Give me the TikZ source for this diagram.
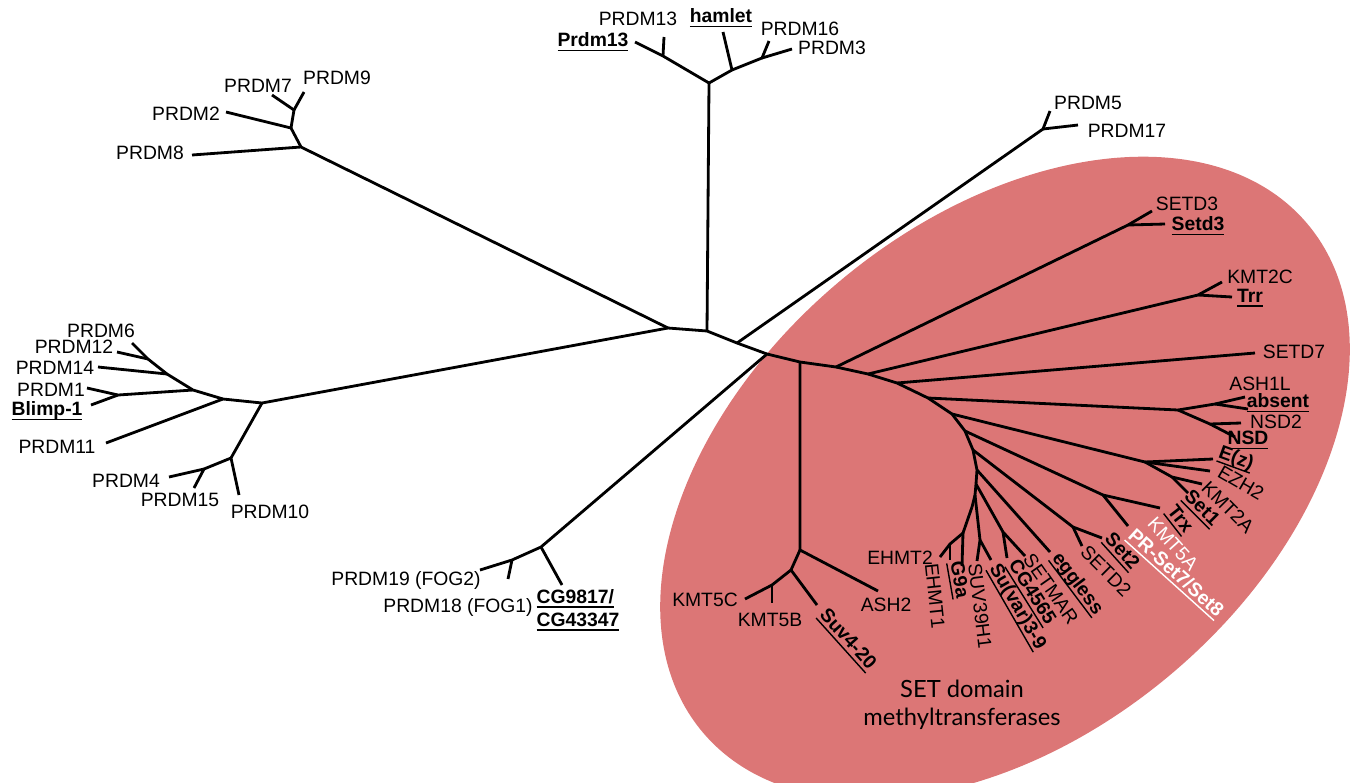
\documentclass[tikz,border=0pt]{standalone}
\usepackage{fontspec}
\setmainfont{Liberation Sans}
\newfontfamily\cladefont{Lato}
\usetikzlibrary{positioning}
\definecolor{setred}{RGB}{220,118,118}
\newcommand{\fly}[1]{\setbox0\hbox{#1}\rlap{\vrule height -1.7pt depth 2.5pt width \wd0}\box0}
\tikzset{
    branch/.style = {
        line width=1.6pt,
        line join=round
    },
    leaf/.style = {
        inner sep=0pt,
        font=\fontsize{11}{13}\selectfont
    },
    flyleaf/.style = {
        leaf,
        font=\fontsize{11}{13}\selectfont\bfseries
    },
    cladelabel/.style = {
        align=center,
        font=\cladefont\fontsize{13.5}{16}\selectfont
    }
}

\begin{document}
\begin{tikzpicture}[x=0.02cm, y=-0.02cm]
    \useasboundingbox (0,0) rectangle (1359,782);
    \fill[setred, rotate around={40:(1005,478)}] (1005,478) ellipse [x radius=395, y radius=257];
    \node[cladelabel] (setlabel) at (962,705) {SET domain\\methyltransferases};

    % backbone
    \coordinate (c1) at (668,328);
    \coordinate (c2) at (707,331);
    \coordinate (c3) at (737,343);
    \coordinate (c4) at (767,354);
    \coordinate (c5) at (800,362);
    \coordinate (s1) at (836,367);
    \coordinate (s2) at (868,374);
    \coordinate (s3) at (897,383);
    \coordinate (s4) at (928,398);
    \coordinate (s5) at (952,414);
    \coordinate (s6) at (965,431);
    \coordinate (s7) at (973,450);
    \coordinate (s8) at (977,470);
    \coordinate (s9) at (976,484);
    \coordinate (s10) at (975,495);
    \coordinate (s11) at (972,507);
    \draw[branch] (c1) -- (c2) -- (c3) -- (c4) -- (c5) -- (s1) -- (s2) -- (s3) -- (s4)
        -- (s5) -- (s6) -- (s7) -- (s8) -- (s9) -- (s10) -- (s11);

    % PRDM8 clade
    \coordinate (p8j) at (301,147);
    \coordinate (p2j) at (291,128);
    \coordinate (p79j) at (294,110);
    \coordinate (p8t) at (192,155);
    \coordinate (p2t) at (226,112);
    \coordinate (p7t) at (272,95);
    \coordinate (p9t) at (304,92);
    \draw[branch] (c1) -- (p8j) -- (p8t);
    \draw[branch] (p8j) -- (p2j) -- (p2t);
    \draw[branch] (p2j) -- (p79j) -- (p7t);
    \draw[branch] (p79j) -- (p9t);
    \node[leaf] (prdm8) at (150,153) {PRDM8};
    \node[leaf] (prdm2) at (186,114) {PRDM2};
    \node[leaf] (prdm7) at (258,86) {PRDM7};
    \node[leaf] (prdm9) at (337,78) {PRDM9};

    % PRDM13 / hamlet clade
    \coordinate (tj) at (709,83);
    \coordinate (p13j) at (663,56);
    \coordinate (p13t) at (664,37);
    \coordinate (fp13t) at (635,42);
    \coordinate (hj) at (732,70);
    \coordinate (ht) at (723,32);
    \coordinate (p316j) at (762,58);
    \coordinate (p16t) at (769,41);
    \coordinate (p3t) at (792,49);
    \draw[branch] (c2) -- (tj) -- (p13j) -- (fp13t);
    \draw[branch] (p13j) -- (p13t);
    \draw[branch] (tj) -- (hj) -- (ht);
    \draw[branch] (hj) -- (p316j) -- (p16t);
    \draw[branch] (p316j) -- (p3t);
    \node[leaf] (prdm13) at (638,19) {PRDM13};
    \node[flyleaf] (hamlet) at (721,18) {\fly{hamlet}};
    \node[flyleaf] (fprdm13) at (593,42) {\fly{Prdm13}};
    \node[leaf] (prdm16) at (800,29) {PRDM16};
    \node[leaf] (prdm3) at (832,48) {PRDM3};

    % PRDM5 clade
    \coordinate (p5j) at (1043,129);
    \coordinate (p5t) at (1050,111);
    \coordinate (p17t) at (1078,125);
    \draw[branch] (c3) -- (p5j) -- (p5t);
    \draw[branch] (p5j) -- (p17t);
    \node[leaf] (prdm5) at (1088,103) {PRDM5};
    \node[leaf] (prdm17) at (1127,131) {PRDM17};

    % FOG clade
    \coordinate (cgj) at (541,547);
    \coordinate (fogj) at (512,560);
    \coordinate (p19t) at (480,570);
    \coordinate (p18t) at (508,579);
    \coordinate (cgt) at (562,585);
    \draw[branch] (c4) -- (cgj) -- (fogj) -- (p19t);
    \draw[branch] (fogj) -- (p18t);
    \draw[branch] (cgj) -- (cgt);
    \node[leaf] (prdm19) at (406,580) {PRDM19 (FOG2)};
    \node[leaf] (prdm18) at (458,607) {PRDM18 (FOG1)};
    \node[flyleaf, align=left] (cg9817) at (578,610) {\fly{CG9817/}\\\fly{CG43347}};

    % PRDM1 clade
    \coordinate (lj) at (262,403);
    \coordinate (lj2) at (223,399);
    \coordinate (lj3) at (193,390);
    \coordinate (lj4) at (167,374);
    \coordinate (lj5) at (148,359);
    \coordinate (p6t) at (132,343);
    \coordinate (p12t) at (117,352);
    \coordinate (p14t) at (98,367);
    \coordinate (p1j) at (118,395);
    \coordinate (p1t) at (87,388);
    \coordinate (blt) at (91,405);
    \coordinate (p11t) at (106,443);
    \coordinate (lj6) at (231,458);
    \coordinate (p10t) at (239,495);
    \coordinate (lj7) at (204,469);
    \coordinate (p4t) at (169,477);
    \coordinate (p15t) at (194,488);
    \draw[branch] (c1) -- (lj) -- (lj2) -- (lj3) -- (lj4) -- (lj5) -- (p6t);
    \draw[branch] (lj5) -- (p12t);
    \draw[branch] (lj4) -- (p14t);
    \draw[branch] (lj3) -- (p1j) -- (p1t);
    \draw[branch] (p1j) -- (blt);
    \draw[branch] (lj2) -- (p11t);
    \draw[branch] (lj) -- (lj6) -- (p10t);
    \draw[branch] (lj6) -- (lj7) -- (p4t);
    \draw[branch] (lj7) -- (p15t);
    \node[leaf] (prdm6) at (101,331) {PRDM6};
    \node[leaf] (prdm12) at (74,347) {PRDM12};
    \node[leaf] (prdm14) at (55,368) {PRDM14};
    \node[leaf] (prdm1) at (51,390) {PRDM1};
    \node[flyleaf] (blimp) at (47,411) {\fly{Blimp-1}};
    \node[leaf] (prdm11) at (57,447) {PRDM11};
    \node[leaf] (prdm4) at (126,481) {PRDM4};
    \node[leaf] (prdm15) at (180,500) {PRDM15};
    \node[leaf] (prdm10) at (270,512) {PRDM10};

    % KMT5 clade
    \coordinate (kj) at (800,550);
    \coordinate (kj2) at (791,570);
    \coordinate (kj3) at (772,585);
    \coordinate (k5ct) at (745,599);
    \coordinate (k5bt) at (772,603);
    \coordinate (suvt) at (817,605);
    \coordinate (ash2t) at (878,591);
    \draw[branch] (c5) -- (kj) -- (ash2t);
    \draw[branch] (kj) -- (kj2) -- (suvt);
    \draw[branch] (kj2) -- (kj3) -- (k5ct);
    \draw[branch] (kj3) -- (k5bt);
    \node[leaf] (kmt5c) at (705,600) {KMT5C};
    \node[leaf] (kmt5b) at (770,620) {KMT5B};
    \node[leaf] (ash2) at (886,605) {ASH2};
    \node[flyleaf, rotate=-48] (suv420) at (847,640) {\fly{Suv4-20}};

    % SET clade, upper branches
    \coordinate (st3j) at (1128,225);
    \coordinate (st3t) at (1152,211);
    \coordinate (fst3t) at (1165,224);
    \draw[branch] (s1) -- (st3j) -- (st3t);
    \draw[branch] (st3j) -- (fst3t);
    \node[leaf] (setd3) at (1187,204) {SETD3};
    \node[flyleaf] (fsetd3) at (1198,226) {\fly{Setd3}};

    \coordinate (ktj) at (1198,295);
    \coordinate (kmt2ct) at (1222,282);
    \coordinate (trrt) at (1232,297);
    \draw[branch] (s2) -- (ktj) -- (kmt2ct);
    \draw[branch] (ktj) -- (trrt);
    \node[leaf] (kmt2c) at (1260,277) {KMT2C};
    \node[flyleaf] (trr) at (1250,298) {\fly{Trr}};

    \coordinate (setd7t) at (1255,353);
    \draw[branch] (s3) -- (setd7t);
    \node[leaf] (setd7) at (1294,352) {SETD7};

    \coordinate (aj) at (1178,410);
    \coordinate (aj2) at (1215,404);
    \coordinate (aj3) at (1210,424);
    \coordinate (ash1lt) at (1245,397);
    \coordinate (absentt) at (1248,409);
    \coordinate (nsd2t) at (1241,423);
    \coordinate (nsdt) at (1235,437);
    \draw[branch] (s4) -- (aj) -- (aj2) -- (ash1lt);
    \draw[branch] (aj2) -- (absentt);
    \draw[branch] (aj) -- (aj3) -- (nsd2t);
    \draw[branch] (aj3) -- (nsdt);
    \node[leaf] (ash1l) at (1260,384) {ASH1L};
    \node[flyleaf] (absent) at (1278,403) {\fly{absent}};
    \node[leaf] (nsd2) at (1276,422) {NSD2};
    \node[flyleaf] (nsd) at (1248,440) {\fly{NSD}};

    \coordinate (ezj) at (1145,462);
    \coordinate (kaj) at (1172,477);
    \coordinate (ezt) at (1213,459);
    \coordinate (ezh2t) at (1210,471);
    \coordinate (kmt2at) at (1202,484);
    \coordinate (set1t) at (1188,493);
    \draw[branch] (s5) -- (ezj) -- (ezt);
    \draw[branch] (ezj) -- (ezh2t);
    \draw[branch] (ezj) -- (kaj) -- (kmt2at);
    \draw[branch] (kaj) -- (set1t);
    \node[flyleaf, rotate=-20] (ez) at (1236,459) {\fly{E(z)}};
    \node[leaf, rotate=-30] (ezh2) at (1241,483) {EZH2};
    \node[leaf, rotate=-45] (kmt2a) at (1228,507) {KMT2A};
    \node[flyleaf, rotate=-45] (set1) at (1201,509) {\fly{Set1}};

    \coordinate (trj) at (1103,495);
    \coordinate (trxt) at (1160,508);
    \coordinate (kmt5at) at (1128,526);
    \draw[branch] (s6) -- (trj) -- (trxt);
    \draw[branch] (trj) -- (kmt5at);
    \node[flyleaf, rotate=-52] (trx) at (1179,520) {\fly{Trx}};
    \node[leaf, rotate=-48, text=white] (kmt5a) at (1173,544) {KMT5A};
    \node[flyleaf, rotate=-42, text=white] (prset) at (1175,574) {\fly{PR-Set7/Set8}};

    % SET clade, lower branches
    \coordinate (st2j) at (1073,527);
    \coordinate (set2t) at (1102,538);
    \coordinate (setd2t) at (1082,546);
    \draw[branch] (s7) -- (st2j) -- (set2t);
    \draw[branch] (st2j) -- (setd2t);
    \node[flyleaf, rotate=-48] (set2) at (1121,552) {\fly{Set2}};
    \node[leaf, rotate=-45] (setd2) at (1106,571) {SETD2};

    \coordinate (eggt) at (1050,552);
    \draw[branch] (s8) -- (eggt);
    \node[flyleaf, rotate=-53] (eggless) at (1077,584) {\fly{eggless}};

    \coordinate (cgsj) at (1003,532);
    \coordinate (cg4565t) at (1007,558);
    \coordinate (setmart) at (1025,556);
    \draw[branch] (s9) -- (cgsj) -- (setmart);
    \draw[branch] (cgsj) -- (cg4565t);
    \node[leaf, rotate=-55] (setmar) at (1051,589) {SETMAR};
    \node[flyleaf, rotate=-58] (cg4565) at (1031,593) {\fly{CG4565}};

    \coordinate (suj) at (980,540);
    \coordinate (suv39t) at (977,561);
    \coordinate (suvart) at (991,560);
    \draw[branch] (s10) -- (suj) -- (suv39t);
    \draw[branch] (suj) -- (suvart);
    \node[leaf, rotate=-83] (suv39h1) at (980,606) {SUV39H1};
    \node[flyleaf, rotate=-60] (suvar) at (1017,607) {\fly{Su(var)3-9}};

    \coordinate (ehj) at (963,533);
    \coordinate (ehj2) at (950,544);
    \coordinate (ehmt2t) at (940,557);
    \coordinate (ehmt1t) at (950,560);
    \coordinate (g9at) at (962,566);
    \draw[branch] (s11) -- (ehj) -- (ehj2) -- (ehmt2t);
    \draw[branch] (ehj2) -- (ehmt1t);
    \draw[branch] (ehj) -- (g9at);
    \node[leaf] (ehmt2) at (900,558) {EHMT2};
    \node[leaf, rotate=-84] (ehmt1) at (935,596) {EHMT1};
    \node[flyleaf, rotate=-80] (g9a) at (958,580) {\fly{G9a}};
\end{tikzpicture}
\end{document}
